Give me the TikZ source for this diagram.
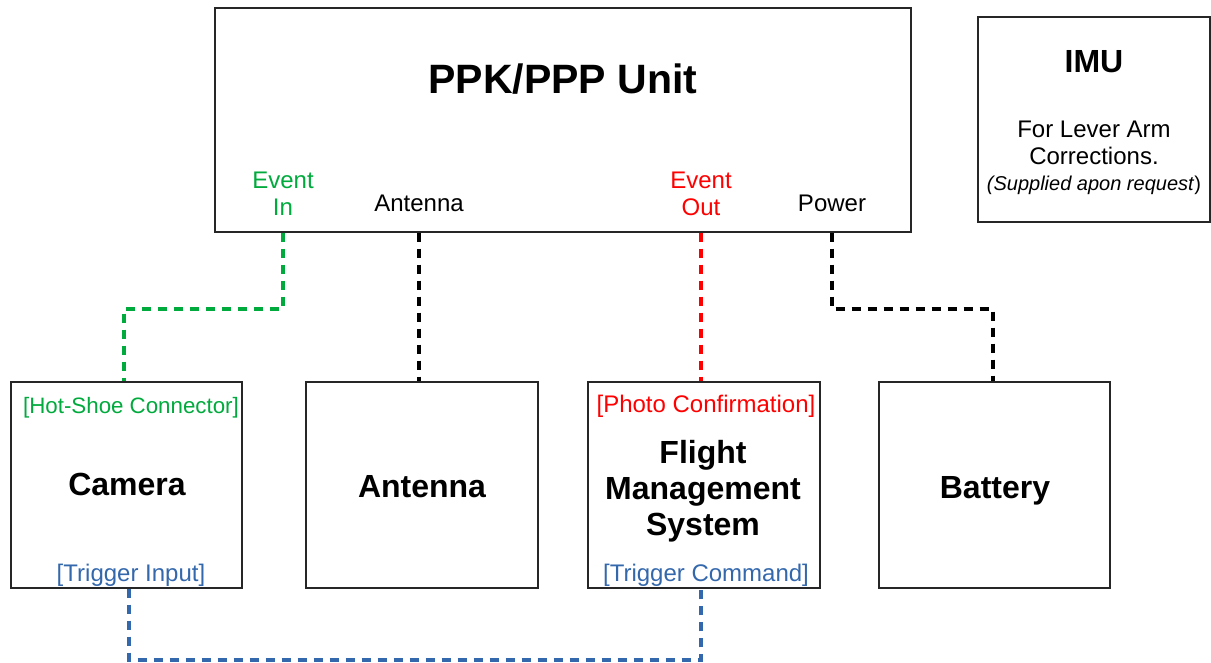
\documentclass[tikz,border=0pt]{standalone}
\usepackage{fontspec}
\setmainfont{Liberation Sans}
\definecolor{sigGreen}{RGB}{0,170,60}
\definecolor{sigRed}{RGB}{255,0,0}
\definecolor{sigBlue}{RGB}{52,104,172}
\begin{document}
\begin{tikzpicture}[x=1pt,y=-1pt,
  box/.style={draw=black!85, line width=1.4pt, inner sep=0pt},
  conn/.style={line width=3.5pt, dash pattern=on 9pt off 7pt},
  bigtitle/.style={font=\bfseries\fontsize{41}{46}\selectfont},
  title/.style={font=\bfseries\fontsize{32}{36}\selectfont, align=center},
  lbl/.style={font=\fontsize{24}{27}\selectfont, align=center},
  note/.style={font=\fontsize{20}{24}\selectfont}]
\useasboundingbox (0,0) rectangle (1211,663);

% boxes
\node[box, minimum width=696pt, minimum height=224pt] (ppk) at (563,120) {};
\node[box, minimum width=232pt, minimum height=205pt] (imu) at (1094,119.5) {};
\node[box, minimum width=231pt, minimum height=206pt] (cam) at (126.5,485) {};
\node[box, minimum width=232pt, minimum height=206pt] (ant) at (422,485) {};
\node[box, minimum width=232pt, minimum height=206pt] (fms) at (704,485) {};
\node[box, minimum width=231pt, minimum height=206pt] (bat) at (994.5,485) {};

% PPK/PPP unit and its ports
\node[bigtitle] (ppkt) at (563,79) {PPK/PPP Unit};
\node[lbl, text=sigGreen] (ein) at (283,194) {Event\\In};
\node[lbl] (antp) at (419,203) {Antenna};
\node[lbl, text=sigRed] (eout) at (701,194) {Event\\Out};
\node[lbl] (pwr) at (832,203) {Power};

% IMU
\node[title] (imut) at (1094,62) {IMU};
\node[lbl] (imud) at (1094,143) {For Lever Arm\\Corrections.};
\node[note] (imun) at (1094,185) {\textit{(Supplied apon request})};

% camera
\node[font=\fontsize{22.3}{26}\selectfont, text=sigGreen] (hs) at (131,408) {[Hot-Shoe Connector]};
\node[title] (camt) at (127,484) {Camera};
\node[lbl, text=sigBlue] (trin) at (131,575) {[Trigger Input]};

% antenna
\node[title] (antt) at (422,487) {Antenna};

% flight management system
\node[lbl, text=sigRed] (pc) at (706,406) {[Photo Confirmation]};
\node[title] (fmst) at (703,491) {Flight\\Management\\System};
\node[lbl, text=sigBlue] (tc) at (706,575) {[Trigger Command]};

% battery
\node[title] (batt) at (995,491) {Battery};

% connectors
\coordinate (gbend) at (124,309);
\coordinate (pbend) at (993,309);
\coordinate (bbend) at (129,660);
\coordinate (bbend2) at (701,660);

\draw[conn, sigGreen] (ein |- ppk.south) |- (gbend) -- (gbend |- cam.north);
\draw[conn] (antp |- ppk.south) -- (antp |- ant.north);
\draw[conn, sigRed] (eout |- ppk.south) -- (eout |- fms.north);
\draw[conn] (pwr |- ppk.south) |- (pbend) -- (pbend |- bat.north);
\draw[conn, sigBlue] (bbend |- cam.south) -- (bbend) -- (bbend2) -- (bbend2 |- fms.south);
\end{tikzpicture}
\end{document}
